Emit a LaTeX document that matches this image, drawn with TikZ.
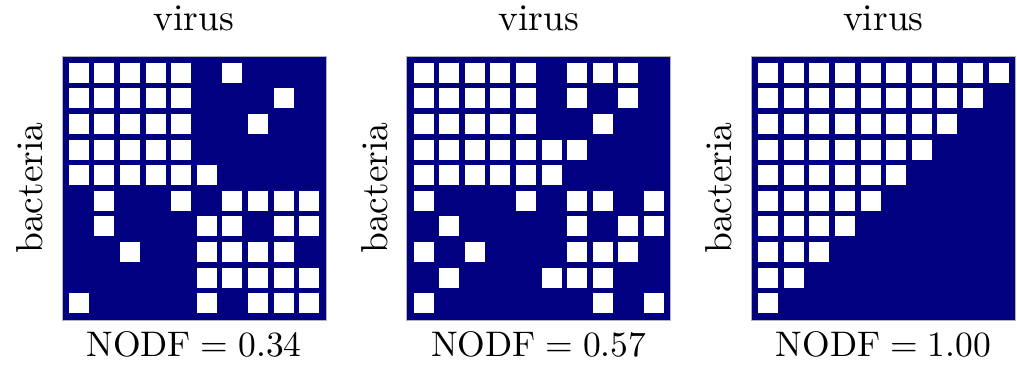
\documentclass[tikz,border=0pt]{standalone}
\usepackage{fontspec}
\setmainfont{lmroman10-regular.otf}
\definecolor{netnavy}{RGB}{0,0,128}
\tikzset{
  mtxbox/.style={fill=netnavy, draw=gray!60, line width=0.8pt},
  cell/.style={fill=white},
  lbl/.style={font=\fontsize{37.5}{42}\selectfont, inner sep=0pt},
  vallbl/.style={font=\fontsize{35.5}{40}\selectfont, inner sep=0pt}
}
% one incidence matrix panel: left x, name, rows, NODF value
\newcommand{\nestpanel}[4]{%
  \draw[mtxbox] (#1,44) rectangle ++(264,264);
  \foreach \r [count=\i] in {#3} {
    \foreach \b [count=\j] in \r {
      \ifnum\b=1\relax
        \fill[cell] ({#1+6.8+25.6*(\j-1)},{281.2-25.6*(\i-1)}) rectangle ++(20,20);
      \fi
    }
  }
  \node[lbl, anchor=base] (#2top) at (#1+132,333) {virus};
  \node[lbl, anchor=base, rotate=90] (#2side) at (#1-19.5,176) {bacteria};
  \node[vallbl, anchor=base] (#2bot) at (#1+132,8) {NODF\hspace{0.278em}=\hspace{0.278em}#4};
}
\begin{document}
\begin{tikzpicture}[x=1pt,y=1pt]
  \useasboundingbox (0,0) rectangle (1017,364);
  \nestpanel{62}{low}{{1,1,1,1,1,0,1,0,0,0},{1,1,1,1,1,0,0,0,1,0},{1,1,1,1,1,0,0,1,0,0},{1,1,1,1,1,0,0,0,0,0},{1,1,1,1,1,1,0,0,0,0},{0,1,0,0,1,0,1,1,1,1},{0,1,0,0,0,1,1,0,1,1},{0,0,1,0,0,1,1,1,1,0},{0,0,0,0,0,1,1,1,1,1},{1,0,0,0,0,1,0,1,1,1}}{0.34}
  \nestpanel{406.7}{mid}{{1,1,1,1,1,0,1,1,1,0},{1,1,1,1,1,0,1,0,1,0},{1,1,1,1,1,0,0,1,0,0},{1,1,1,1,1,1,1,0,0,0},{1,1,1,1,1,1,0,0,0,0},{1,0,0,0,1,0,1,1,0,1},{0,1,0,0,0,0,1,0,1,1},{1,0,1,0,0,0,1,1,1,0},{0,1,0,0,0,1,1,1,0,0},{1,0,0,0,0,0,0,1,0,1}}{0.57}
  \nestpanel{751.4}{high}{{1,1,1,1,1,1,1,1,1,1},{1,1,1,1,1,1,1,1,1,0},{1,1,1,1,1,1,1,1,0,0},{1,1,1,1,1,1,1,0,0,0},{1,1,1,1,1,1,0,0,0,0},{1,1,1,1,1,0,0,0,0,0},{1,1,1,1,0,0,0,0,0,0},{1,1,1,0,0,0,0,0,0,0},{1,1,0,0,0,0,0,0,0,0},{1,0,0,0,0,0,0,0,0,0}}{1.00}
\end{tikzpicture}
\end{document}
